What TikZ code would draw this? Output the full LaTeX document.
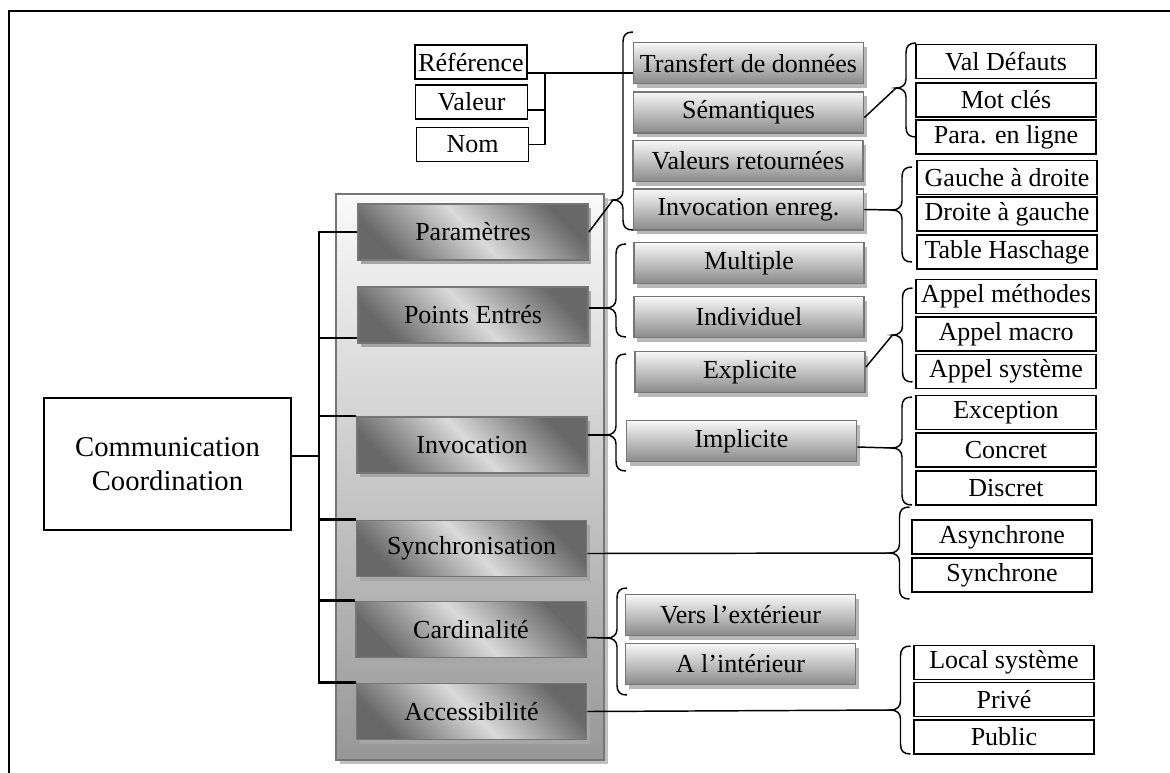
\documentclass[tikz,border=0pt]{standalone}
\usepackage{fontspec}
\setmainfont{Liberation Serif}
\usetikzlibrary{calc,shadows}

\definecolor{catdark}{HTML}{686868}
\definecolor{catlight}{HTML}{DADADA}
\definecolor{subtop}{HTML}{F8F8F8}
\definecolor{subbot}{HTML}{8A8A8A}
\definecolor{boxedge}{HTML}{767676}
\definecolor{paneltop}{HTML}{FAFAFA}
\definecolor{panelbot}{HTML}{979797}

% curly brace: spine x, top y, tip y, bottom y, name of the tip coordinate
\newcommand\drawbrace[5]{%
  \draw[bracestyle] (#1+10,#2) .. controls (#1+3,#2) and (#1,#2+3) .. (#1,#2+10)
    -- (#1,#3-9) .. controls (#1,#3-3) and (#1-4,#3) .. (#1-10,#3)
    .. controls (#1-4,#3) and (#1,#3+3) .. (#1,#3+9)
    -- (#1,#4-10) .. controls (#1,#4-3) and (#1+3,#4) .. (#1+10,#4);
  \coordinate (#5) at (#1-10,#3);}

\begin{document}
\begin{tikzpicture}[x=0.75pt,y=-0.75pt,
  every node/.style={font=\fontsize{19.5}{22}\selectfont, inner sep=0pt, text=black},
  frameline/.style={line width=1.5pt, line cap=rect},
  conn/.style={line width=1.1pt},
  trunk/.style={line width=2pt},
  bracestyle/.style={line width=1.1pt},
  rootbox/.style={draw, line width=1.2pt, fill=white, minimum width=185.25pt, minimum height=99pt,
    align=center, font=\fontsize{21.5}{26}\selectfont},
  panel/.style={draw=boxedge, line width=1.3pt, minimum width=201pt, minimum height=424.5pt,
    top color=paneltop, bottom color=panelbot,
    drop shadow={shadow xshift=3pt, shadow yshift=-3pt, fill=black!25, opacity=1}},
  catbox/.style={draw=boxedge, line width=1.4pt, minimum width=172.5pt, minimum height=42pt,
    top color=catdark, bottom color=catdark, middle color=catlight, shading angle=-45,
    drop shadow={shadow xshift=2.5pt, shadow yshift=-3pt, fill=black!35, opacity=1}},
  subbox/.style={draw=boxedge, line width=1.4pt, minimum width=172.5pt, minimum height=30.75pt,
    top color=subtop, bottom color=subbot,
    drop shadow={shadow xshift=2.5pt, shadow yshift=-3pt, fill=black!28, opacity=1}},
  leaf/.style={draw, line width=1.2pt, fill=white, minimum width=135pt, minimum height=25.5pt},
  refbox/.style={draw, line width=1.2pt, fill=white, minimum width=84pt, minimum height=25.5pt}
]
\useasboundingbox (0,0) rectangle (1170,772);

% page frame
\draw[frameline] (9,772) -- (9,10.5) -- (1170,10.5);

% root and the panel holding the six aspects
\node[rootbox] (cc) at (167.5,464) {Communication\\Coordination};
\node[panel] (panel) at (470,477) {};

\node[catbox] (par)  at (473,232)   {Paramètres};
\node[catbox] (pe)   at (473,315)   {Points Entrés};
\node[catbox] (inv)  at (472,445)   {Invocation};
\node[catbox] (syn)  at (471.5,548.5) {Synchronisation};
\node[catbox] (card) at (471,629.5) {Cardinalité};
\node[catbox] (acc)  at (471.5,711.5) {Accessibilité};

% trunk from the root to the aspects
\coordinate (tr) at (319,0);
\draw[trunk] ($(cc.east)+(0,-8)$) coordinate (ccl) -- (ccl -| tr);
\draw[trunk] (par.west) -- (par.west -| tr) -- (acc.north west -| tr) -- (acc.north west);
\draw[trunk] ($(pe.south west)+(0,-6)$) coordinate (pel) -- (pel -| tr);
\draw[trunk] (inv.north west) -- (inv.north west -| tr);
\draw[trunk] (syn.north west) -- (syn.north west -| tr);
\draw[trunk] (card.north west) -- (card.north west -| tr);

% parameter details
\node[subbox] (tdd) at (748.5,63)    {Transfert de données};
\node[subbox] (sem) at (748.5,112.5) {Sémantiques};
\node[subbox] (vr)  at (748,161)     {Valeurs retournées};
\node[subbox] (ie)  at (748.5,209.5) {Invocation enreg.};

\node[refbox] (ref) at (471,62)    {Référence};
\node[refbox] (val) at (471.5,102) {Valeur};
\node[refbox] (nom) at (472.5,144.5) {Nom};

\coordinate (bx) at (545,73);
\draw[conn] ($(ref.east)+(0,11)$) coordinate (rl) -- (rl -| tdd.west);
\draw[conn] (bx) |- (nom.east);
\draw[conn] ($(val.east)+(0,8)$) coordinate (vl) -- (vl -| bx);

\node[leaf] (vd)  at (1006,61.5) {Val Défauts};
\node[leaf] (mc)  at (1006,100)  {Mot clés};
\node[leaf] (pl)  at (1006,137)  {Para. en ligne};
\node[leaf] (gad) at (1007,177.5) {Gauche à droite};
\node[leaf] (dag) at (1007,214)  {Droite à gauche};
\node[leaf] (th)  at (1007,252)  {Table Haschage};

% entry points
\node[subbox] (mul) at (749,263) {Multiple};
\node[subbox] (ind) at (749,317) {Individuel};

% invocation
\node[subbox] (exp) at (750,372)   {Explicite};
\node[subbox] (imp) at (741.5,441) {Implicite};
\node[leaf] (am)   at (1006,296.5) {Appel méthodes};
\node[leaf] (amac) at (1006,334)   {Appel macro};
\node[leaf] (asys) at (1006,371.5) {Appel système};
\node[leaf] (exc)  at (1006,412.5) {Exception};
\node[leaf] (conc) at (1006,450)   {Concret};
\node[leaf] (disc) at (1006,488)   {Discret};

% synchronisation
\node[leaf] (asy) at (1002,537) {Asynchrone};
\node[leaf] (syc) at (1002,575) {Synchrone};

% cardinality
\node[subbox] (vers) at (740.5,615) {Vers l’extérieur};
\node[subbox] (ai)   at (740.5,664) {A l’intérieur};

% accessibility
\node[leaf] (ls)  at (1004,662.5) {Local système};
\node[leaf] (pv)  at (1004,699.5) {Privé};
\node[leaf] (pub) at (1004,737)   {Public};

% braces
\drawbrace{623}{32}{200}{230}{bpar}
\drawbrace{906}{43}{88}{137}{bsem}
\drawbrace{902}{167}{210}{262}{bie}
\drawbrace{616}{244}{308}{337}{bpe}
\drawbrace{902.5}{288}{335}{382}{bexp}
\drawbrace{616}{354}{435}{471}{binv}
\drawbrace{902}{397}{448}{505}{bimp}
\drawbrace{899.5}{507}{553}{599}{bsyn}
\drawbrace{617}{588}{638}{695}{bcard}
\drawbrace{900.5}{646}{710}{754}{bacc}

% links to the braces
\draw[conn] (par.east) -- (bpar);
\draw[conn] ($(sem.east)+(0,5)$) -- (bsem);
\draw[conn] (ie.east) -- (bie);
\draw[conn] ($(pe.east)+(0,-7)$) -- (bpe);
\draw[conn] ($(exp.east)+(0,-5)$) -- (bexp);
\draw[conn] ($(inv.east)+(0,-10)$) -- (binv);
\draw[conn] ($(imp.east)+(0,6)$) -- (bimp);
\draw[conn] ($(syn.east)+(0,5)$) -- (bsyn);
\draw[conn] ($(card.east)+(0,8)$) -- (bcard);
\draw[conn] (acc.east) -- (bacc);
\end{tikzpicture}
\end{document}
